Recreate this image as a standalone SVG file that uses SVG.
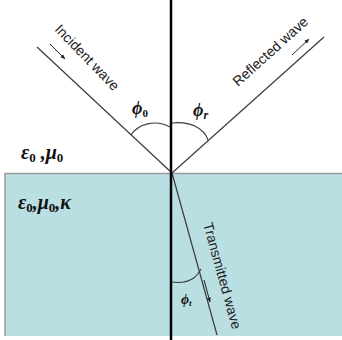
<svg xmlns="http://www.w3.org/2000/svg" width="342" height="340" viewBox="0 0 342 340">
<style>
.ray{stroke:#3a3a3a;stroke-width:1.2;fill:none}
.arc{stroke:#3a3a3a;stroke-width:1.1;fill:none}
.dir{stroke:#222;stroke-width:1;fill:none;marker-end:url(#ah)}
.lbl{font-family:"Liberation Sans",Arial,sans-serif;font-size:14px;fill:#222}
.sym{font-family:"Liberation Serif","DejaVu Serif",serif;font-weight:bold;font-style:italic;fill:#111}
.sub{font-style:normal}
</style>
<defs>
<marker id="ah" viewBox="0 0 10 10" refX="9" refY="5" markerWidth="5" markerHeight="5" orient="auto" markerUnits="userSpaceOnUse">
<path d="M0,1 L10,5 L0,9 Z" fill="#222"/>
</marker>
</defs>
<rect width="342" height="340" fill="#ffffff"/>
<g id="medium2">
<rect x="5" y="173" width="337" height="163" fill="#badfe3"/>
<path d="M5,336 V173.5 H342" stroke="#9a9a9a" stroke-width="1.5" fill="none"/>
<text class="sym" x="18" y="209" font-size="20">ε<tspan class="sub" font-size="13" dy="3">0</tspan><tspan dy="-3">,μ</tspan><tspan class="sub" font-size="13" dy="3">0</tspan><tspan dy="-3">,κ</tspan></text>
</g>
<g id="medium1">
<text class="sym" x="21" y="159" font-size="20">ε<tspan class="sub" font-size="13" dy="3">0</tspan><tspan dy="-3"> ,μ</tspan><tspan class="sub" font-size="13" dy="3">0</tspan></text>
</g>
<g id="connectors">
<line class="ray" x1="37" y1="47" x2="172" y2="173"/>
<line class="ray" x1="172" y1="173" x2="324" y2="37"/>
<line class="ray" x1="172" y1="173" x2="217" y2="335"/>
<line x1="171" y1="0" x2="171" y2="340" stroke="#000" stroke-width="2.5"/>
<path class="arc" d="M131,135 C138,124 155,119 170,127"/>
<path class="arc" d="M172,123 C190,121 204,128 208,140"/>
<path class="arc" d="M172,282 C186,284 196,279 201,269"/>
<line class="dir" x1="50" y1="44" x2="65" y2="59"/>
<line class="dir" x1="292" y1="55" x2="309" y2="39"/>
<line class="dir" x1="204" y1="280" x2="210" y2="302"/>
</g>
<g id="incident">
<text class="lbl" transform="translate(54,30) rotate(46)">Incident wave</text>
</g>
<g id="reflected">
<text class="lbl" transform="translate(238,87) rotate(-42)">Reflected wave</text>
</g>
<g id="transmitted">
<text class="lbl" transform="translate(203,224) rotate(74.5)">Transmitted wave</text>
</g>
<g id="angles">
<text class="sym" x="132" y="114" font-size="18">ϕ<tspan class="sub" font-size="11" dy="3">0</tspan></text>
<text class="sym" x="193" y="116" font-size="18">ϕ<tspan font-size="12" dy="3">r</tspan></text>
<text class="sym" x="181" y="304" font-size="14">ϕ<tspan font-size="9" dy="2">t</tspan></text>
</g>
</svg>
